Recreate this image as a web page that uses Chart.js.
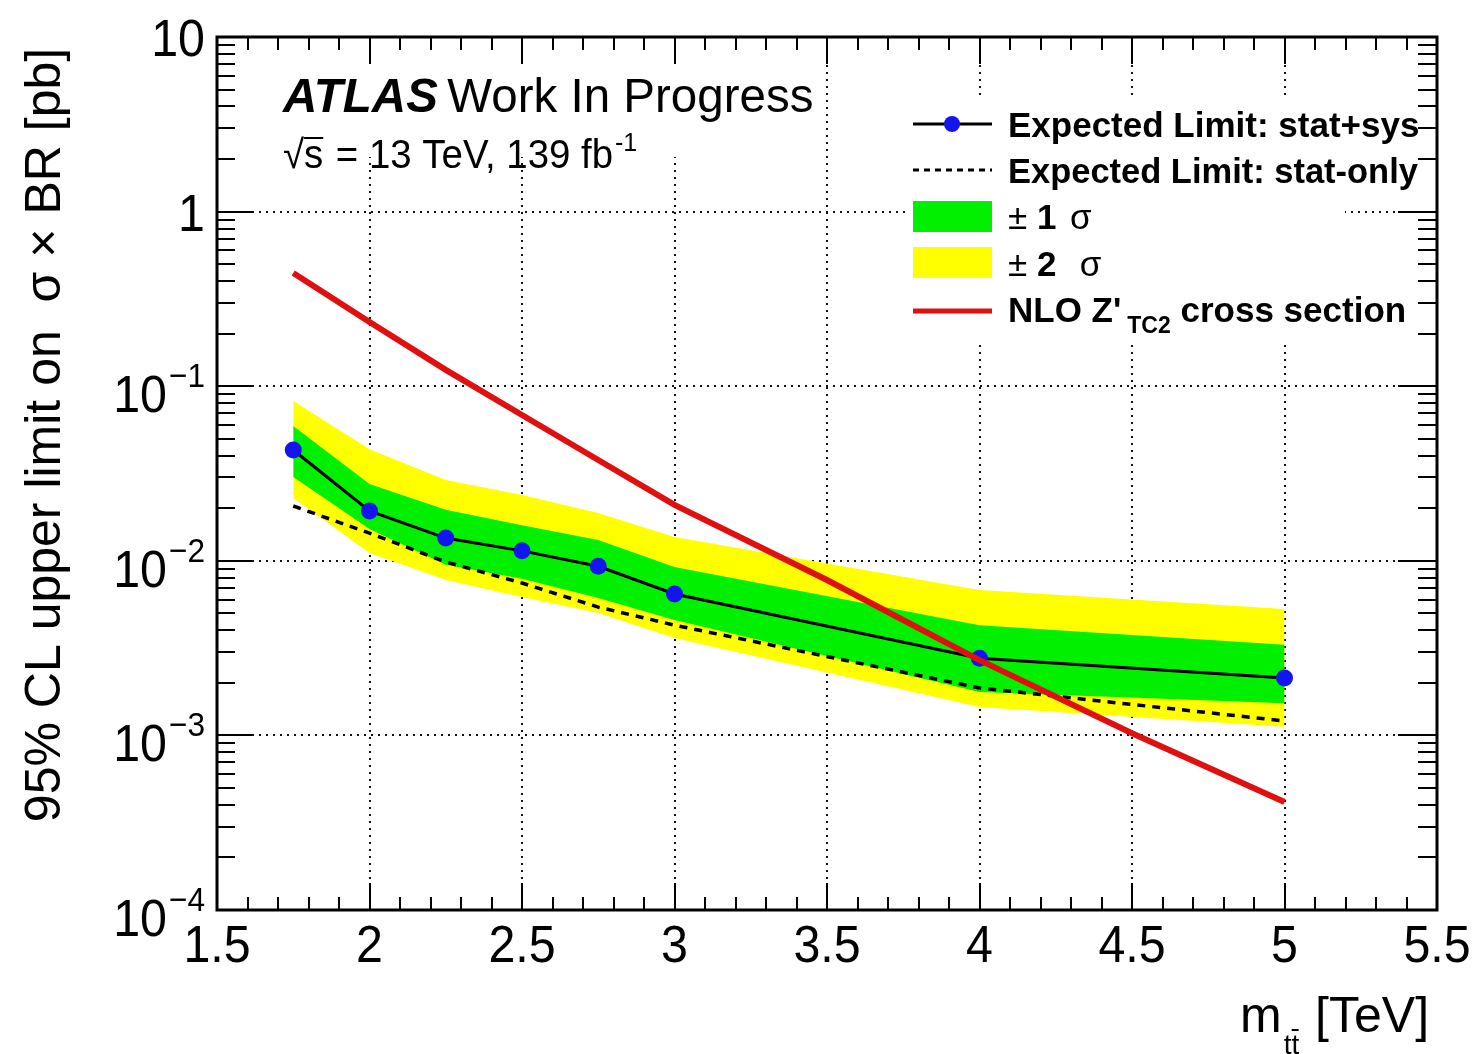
<!DOCTYPE html>
<html>
<head>
<meta charset="utf-8">
<script src="https://cdn.jsdelivr.net/npm/chart.js@4.4.1/dist/chart.umd.min.js"></script>
<style>
  html, body { margin: 0; padding: 0; background: #fff; }
  #wrap { width: 1473px; height: 1054px; position: relative; }
</style>
</head>
<body>
<div id="wrap"><canvas id="limitChart"></canvas></div>
<script>
// --- data ---
const masses = [1.75, 2.0, 2.25, 2.5, 2.75, 3.0, 4.0, 5.0];
const expectedLimit = [0.0431, 0.0193, 0.0135, 0.0114, 0.0093, 0.00646, 0.00277, 0.00213];
const statOnlyLimit = [0.0206, 0.0144, 0.00985, 0.00746, 0.00543, 0.00428, 0.00187, 0.00121];
const plusOneSigma = [0.0592, 0.0275, 0.0196, 0.0160, 0.01315, 0.0092, 0.00428, 0.0033];
const minusOneSigma = [0.0302, 0.0152, 0.0095, 0.0079, 0.00612, 0.00458, 0.00177, 0.00153];
const plusTwoSigma = [0.0822, 0.0436, 0.029, 0.0238, 0.0188, 0.01368, 0.00681, 0.0053];
const minusTwoSigma = [0.0229, 0.0111, 0.00776, 0.0062, 0.00502, 0.00361, 0.001455, 0.00112];

const xsecMasses = [1.75, 2.0, 2.25, 2.5, 2.75, 3.0, 3.5, 4.0, 4.5, 5.0];
const xsecValues = [0.445, 0.233, 0.124, 0.0684, 0.0378, 0.0209, 0.00776, 0.0027, 0.00103, 0.000416];

const xTickValues = [1.5, 2, 2.5, 3, 3.5, 4, 4.5, 5, 5.5];
const xTickLabels = ['1.5', '2', '2.5', '3', '3.5', '4', '4.5', '5', '5.5'];
const yTickValues = [10, 1, 0.1, 0.01, 0.001, 0.0001];
const yTickBase = ['10', '1', '10', '10', '10', '10'];
const yTickExp = ['', '', '\u22121', '\u22122', '\u22123', '\u22124'];

const FONT = "'Liberation Sans', Arial, Helvetica, sans-serif";
const SX = 0.93; // the original text looks a bit narrow

function pts(xs, ys) {
    return xs.map((x, i) => ({ x: x, y: ys[i] }));
}

// draws a row of text pieces with different fonts / offsets
function drawRuns(ctx, x, y, runs, sx) {
    ctx.save();
    ctx.translate(x, y);
    ctx.scale(sx, 1);
    ctx.textBaseline = 'alphabetic';
    ctx.textAlign = 'left';
    ctx.fillStyle = '#000';
    ctx.strokeStyle = '#000';
    let cx = 0;
    runs.forEach(r => {
        ctx.font = r.font;
        cx += (r.gap || 0);
        ctx.fillText(r.t, cx, r.dy || 0);
        const w = ctx.measureText(r.t).width;
        if (r.over) {
            ctx.lineWidth = 2;
            ctx.beginPath();
            ctx.moveTo(cx + r.over[0], r.over[2]);
            ctx.lineTo(cx + r.over[1], r.over[2]);
            ctx.stroke();
        }
        cx += w;
    });
    ctx.restore();
}

function textWidth(ctx, t, font, sx) {
    ctx.save();
    ctx.font = font;
    const w = ctx.measureText(t).width * sx;
    ctx.restore();
    return w;
}

const rootStyle = {
    id: 'rootStyle',
    beforeDatasetsDraw(chart) {
        const ctx = chart.ctx, a = chart.chartArea;
        const xs = chart.scales.x, ys = chart.scales.y;
        ctx.save();
        ctx.strokeStyle = '#111';
        ctx.lineWidth = 2;
        ctx.setLineDash([2, 5]);
        xTickValues.forEach(v => {
            const px = Math.round(xs.getPixelForValue(v));
            ctx.beginPath();
            ctx.moveTo(px, a.top);
            ctx.lineTo(px, a.bottom);
            ctx.stroke();
        });
        yTickValues.forEach(v => {
            const py = Math.round(ys.getPixelForValue(v));
            ctx.beginPath();
            ctx.moveTo(a.left, py);
            ctx.lineTo(a.right, py);
            ctx.stroke();
        });
        ctx.setLineDash([]);
        // white boxes behind the labels and the legend
        ctx.fillStyle = '#fff';
        ctx.fillRect(a.left + 4, a.top + 4, 590, 116);
        ctx.fillRect(905, 100, 440, 240);
        ctx.restore();
    },
    afterDatasetsDraw(chart) {
        const ctx = chart.ctx, a = chart.chartArea;
        const xs = chart.scales.x, ys = chart.scales.y;
        ctx.save();
        ctx.strokeStyle = '#000';
        ctx.lineWidth = 2;
        ctx.beginPath();
        // x ticks, bottom and top
        for (let i = 15; i <= 55; i++) {
            const px = Math.round(xs.getPixelForValue(i / 10));
            const major = i % 5 === 0;
            const len = major ? 27 : 13;
            ctx.moveTo(px, a.bottom); ctx.lineTo(px, a.bottom - len);
            ctx.moveTo(px, a.top); ctx.lineTo(px, a.top + len);
        }
        // y ticks, left and right (log)
        for (let e = -4; e <= 1; e++) {
            for (let k = 1; k <= 9; k++) {
                const v = k * Math.pow(10, e);
                if (v > 10.0001) break;
                const py = Math.round(ys.getPixelForValue(v));
                const major = k === 1;
                ctx.moveTo(a.left, py); ctx.lineTo(a.left + (major ? 35 : 18), py);
                ctx.moveTo(a.right, py); ctx.lineTo(a.right - (major ? 39 : 19), py);
            }
        }
        ctx.stroke();
        ctx.lineWidth = 3;
        ctx.strokeRect(a.left, a.top, a.right - a.left, a.bottom - a.top);
        ctx.restore();
    },
    afterDraw(chart) {
        const ctx = chart.ctx, a = chart.chartArea;
        const xs = chart.scales.x, ys = chart.scales.y;
        ctx.save();
        ctx.fillStyle = '#000';

        // x tick labels
        const tickFont = '52px ' + FONT;
        xTickValues.forEach((v, i) => {
            const px = xs.getPixelForValue(v);
            const w = textWidth(ctx, xTickLabels[i], tickFont, SX);
            drawRuns(ctx, px - w / 2, a.bottom + 52, [{ t: xTickLabels[i], font: tickFont }], SX);
        });

        // y tick labels (10^n style)
        const expFont = '34px ' + FONT;
        yTickValues.forEach((v, i) => {
            const py = ys.getPixelForValue(v);
            const right = 205;
            if (yTickExp[i]) {
                const we = textWidth(ctx, yTickExp[i], expFont, SX);
                const wb = textWidth(ctx, yTickBase[i], tickFont, SX);
                drawRuns(ctx, right - we, py + 1, [{ t: yTickExp[i], font: expFont }], SX);
                drawRuns(ctx, right - we - 2 - wb, py + 26, [{ t: yTickBase[i], font: tickFont }], SX);
            } else {
                const wb = textWidth(ctx, yTickBase[i], tickFont, SX);
                drawRuns(ctx, right - wb, py + 19, [{ t: yTickBase[i], font: tickFont }], SX);
            }
        });

        // y title
        ctx.save();
        ctx.translate(60, 435);
        ctx.rotate(-Math.PI / 2);
        ctx.font = '50px ' + FONT;
        ctx.textAlign = 'center';
        ctx.textBaseline = 'alphabetic';
        ctx.fillText('95% CL upper limit on  \u03c3 \u00d7 BR [pb]', 0, 0);
        ctx.restore();

        // x title
        drawRuns(ctx, 1240, 1032, [
            { t: 'm', font: '50px ' + FONT },
            { t: 'tt', font: '28px ' + FONT, dy: 22, gap: 2, over: [8, 15, -2] },
            { t: ' [TeV]', font: '50px ' + FONT, gap: 2 }
        ], 1);

        // ATLAS label
        drawRuns(ctx, 283, 112, [
            { t: 'ATLAS', font: 'italic bold 49px ' + FONT },
            { t: ' Work In Progress', font: '49px ' + FONT, gap: -4 }
        ], 0.97);
        drawRuns(ctx, 283, 168, [
            { t: '\u221a', font: '40px ' + FONT },
            { t: 's', font: '40px ' + FONT, over: [0, 20, -30] },
            { t: ' = 13 TeV, 139 fb', font: '40px ' + FONT, gap: 2 },
            { t: '-1', font: '26px ' + FONT, dy: -17, gap: 2 }
        ], 0.96);

        // legend
        const LSX = 1.0;
        const lf = 'bold 35px ' + FONT;
        const lfn = '35px ' + FONT;
        const lx = 1008;
        ctx.save();
        ctx.lineWidth = 3;
        ctx.strokeStyle = '#000';
        ctx.beginPath(); ctx.moveTo(913, 124); ctx.lineTo(992, 124); ctx.stroke();
        ctx.fillStyle = '#1414ee';
        ctx.beginPath(); ctx.arc(952, 124, 8, 0, Math.PI * 2); ctx.fill();
        ctx.setLineDash([6, 5]);
        ctx.beginPath(); ctx.moveTo(913, 170); ctx.lineTo(992, 170); ctx.stroke();
        ctx.setLineDash([]);
        ctx.fillStyle = '#00f000';
        ctx.fillRect(913, 201, 79, 31);
        ctx.fillStyle = '#ffff00';
        ctx.fillRect(913, 247, 79, 31);
        ctx.strokeStyle = '#e01010';
        ctx.lineWidth = 5;
        ctx.beginPath(); ctx.moveTo(913, 311); ctx.lineTo(992, 311); ctx.stroke();
        ctx.restore();

        drawRuns(ctx, lx, 137, [{ t: 'Expected Limit: stat+sys', font: lf }], LSX);
        drawRuns(ctx, lx, 183, [{ t: 'Expected Limit: stat-only', font: lf }], LSX * 0.985);
        drawRuns(ctx, lx, 229, [
            { t: '\u00b1', font: lfn },
            { t: ' 1', font: lf },
            { t: ' \u03c3', font: lfn, gap: 4 }
        ], LSX);
        drawRuns(ctx, lx, 276, [
            { t: '\u00b1', font: lfn },
            { t: ' 2', font: lf },
            { t: '  \u03c3', font: lfn, gap: 4 }
        ], LSX);
        drawRuns(ctx, lx, 322, [
            { t: "NLO Z'", font: lf },
            { t: 'TC2', font: 'bold 23px ' + FONT, dy: 11, gap: 6 },
            { t: ' cross section', font: lf }
        ], LSX);

        ctx.restore();
    }
};

const ctx = document.getElementById('limitChart').getContext('2d');
const limitChart = new Chart(ctx, {
    type: 'line',
    data: {
        datasets: [
            {
                label: 'NLO xsec',
                data: pts(xsecMasses, xsecValues),
                borderColor: '#e01010',
                borderWidth: 6,
                pointRadius: 0,
                fill: false,
                order: 0
            },
            {
                label: 'Expected Limit: stat+sys',
                data: pts(masses, expectedLimit),
                borderColor: '#000',
                borderWidth: 3,
                pointRadius: 8.5,
                pointBackgroundColor: '#1414ee',
                pointBorderWidth: 0,
                fill: false,
                order: 1
            },
            {
                label: 'Expected Limit: stat-only',
                data: pts(masses, statOnlyLimit),
                borderColor: '#000',
                borderWidth: 3.5,
                borderDash: [8, 7],
                pointRadius: 0,
                fill: false,
                order: 2
            },
            {
                label: '+1 sigma',
                data: pts(masses, plusOneSigma),
                borderWidth: 0,
                borderColor: 'rgba(0,0,0,0)',
                backgroundColor: '#00f000',
                pointRadius: 0,
                fill: '+1',
                order: 3
            },
            {
                label: '-1 sigma',
                data: pts(masses, minusOneSigma),
                borderWidth: 0,
                borderColor: 'rgba(0,0,0,0)',
                pointRadius: 0,
                fill: false,
                order: 4
            },
            {
                label: '+2 sigma',
                data: pts(masses, plusTwoSigma),
                borderWidth: 0,
                borderColor: 'rgba(0,0,0,0)',
                backgroundColor: '#ffff00',
                pointRadius: 0,
                fill: '+1',
                order: 5
            },
            {
                label: '-2 sigma',
                data: pts(masses, minusTwoSigma),
                borderWidth: 0,
                borderColor: 'rgba(0,0,0,0)',
                pointRadius: 0,
                fill: false,
                order: 6
            }
        ]
    },
    options: {
        responsive: true,
        maintainAspectRatio: false,
        animation: false,
        elements: { line: { tension: 0 } },
        layout: { padding: { left: 217, right: 36, top: 37, bottom: 144 } },
        plugins: {
            legend: { display: false },
            tooltip: { enabled: false },
            filler: { propagate: false }
        },
        scales: {
            x: { type: 'linear', min: 1.5, max: 5.5, display: false },
            y: { type: 'logarithmic', min: 1e-4, max: 10, display: false }
        }
    },
    plugins: [rootStyle]
});
</script>
</body>
</html>
